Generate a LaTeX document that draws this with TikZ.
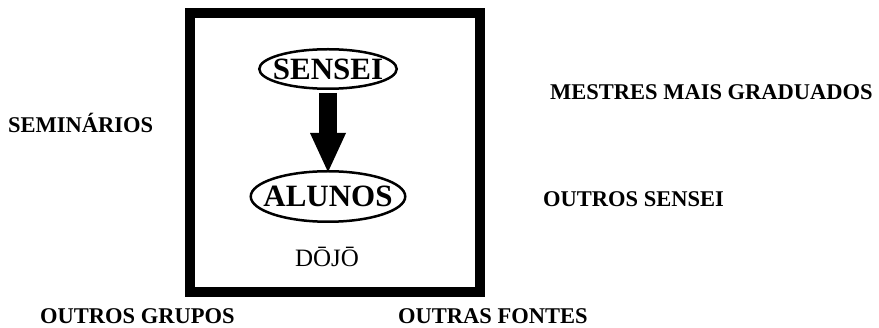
\documentclass[tikz,border=0pt]{standalone}
\usepackage{fontspec}
\setmainfont{Liberation Serif}
\usetikzlibrary{arrows.meta,positioning,shapes.geometric}

\begin{document}
\begin{tikzpicture}[x=1pt,y=-1pt,
lbl/.style={anchor=base west,inner sep=0pt,font=\fontsize{22.5}{27}\selectfont\bfseries},
elli/.style={ellipse,draw,line width=2.5pt,inner sep=0pt,font=\fontsize{31}{36}\selectfont\bfseries},
fat/.style={line width=18pt,-{Triangle[width=36pt,length=39pt,line width=0pt]}}]

\useasboundingbox (0,0) rectangle (879,328);
\node[draw,line width=10pt,minimum width=290pt,minimum height=279pt] (box) at (335,152.5) {};
\node[elli,minimum width=137.5pt,minimum height=39.5pt] (sensei) at (328,69) {\makebox[0pt]{SENSEI}};
\node[elli,minimum width=154.5pt,minimum height=50.5pt,below=80pt of sensei] (alunos) {\makebox[0pt]{ALUNOS}};
\node[anchor=base,inner sep=0pt,font=\fontsize{25}{30}\selectfont] (dojo) at (327,267) {DŌJŌ};
\draw[fat,shorten <=3pt,shorten >=-2pt] (sensei) -- (alunos);

\node[lbl] (sem) at (8,133) {SEMINÁRIOS};
\node[lbl] (mestres) at (550,100) {MESTRES MAIS GRADUADOS};
\node[lbl] (outsen) at (543,207) {OUTROS SENSEI};
\node[lbl] (grupos) at (40,324) {OUTROS GRUPOS};
\node[lbl] (fontes) at (398,324) {OUTRAS FONTES};
\end{tikzpicture}
\end{document}
